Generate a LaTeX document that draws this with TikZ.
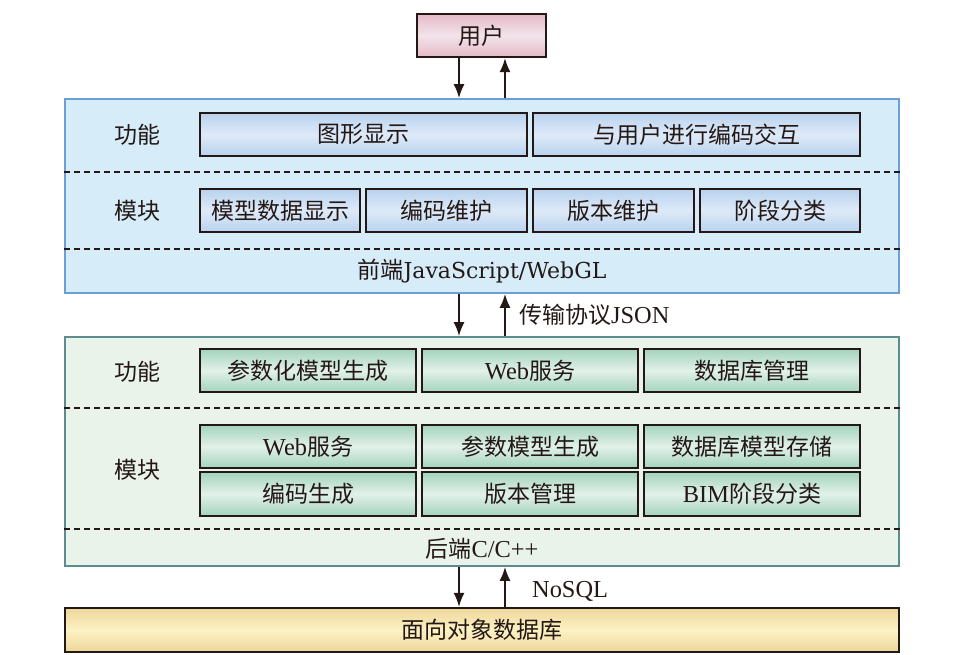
\documentclass[tikz,border=0pt]{standalone}
\usepackage{fontspec}
\setmainfont{Liberation Serif}[Scale=1.06]
\newfontfamily\cjk{Noto Sans CJK SC}
\newfontfamily\dvs{DejaVu Serif}
\usetikzlibrary{arrows.meta}
\definecolor{dk}{HTML}{231815}
\definecolor{upE}{HTML}{E4B9C8}
\definecolor{upC}{HTML}{F2E4EA}
\definecolor{fpF}{HTML}{D6ECF9}
\definecolor{fpB}{HTML}{6C9FD4}
\definecolor{fbE}{HTML}{B8D2EE}
\definecolor{fbC}{HTML}{DEEAF8}
\definecolor{bpF}{HTML}{E9F3EA}
\definecolor{bpB}{HTML}{5C8C90}
\definecolor{bbE}{HTML}{A3D3BC}
\definecolor{bbC}{HTML}{E2F1E9}
\definecolor{dbE}{HTML}{ECD69A}
\definecolor{dbC}{HTML}{FDF2C4}
\newcommand{\zh}[1]{{\cjk #1}}
\tikzset{
  every node/.style={font=\fontsize{23}{27}\selectfont, text=dk, inner sep=0pt},
  ubox/.style={draw=dk, line width=2.2pt, top color=upE, bottom color=upE, middle color=upC, minimum width=129, minimum height=43},
  fbox/.style={draw=dk, line width=2.2pt, top color=fbE, bottom color=fbE, middle color=fbC, minimum height=43},
  bbox/.style={draw=dk, line width=2.2pt, top color=bbE, bottom color=bbE, middle color=bbC, minimum height=43, minimum width=216},
  dbbox/.style={draw=dk, line width=2.2pt, top color=dbE, bottom color=dbE, middle color=dbC, minimum width=834, minimum height=44},
  fpanel/.style={draw=fpB, line width=1.8pt, fill=fpF, minimum width=834, minimum height=194},
  bpanel/.style={draw=bpB, line width=1.8pt, fill=bpF, minimum width=834, minimum height=229},
  sep/.style={draw=dk, line width=1.3pt, dash pattern=on 6pt off 4pt},
  arr/.style={draw=dk, line width=1.8pt, -{Latex[length=14pt,width=11pt]}},
}
\begin{document}
\begin{tikzpicture}[x=1pt,y=-1pt]
\useasboundingbox (0,0) rectangle (978,655);
\coordinate (xl) at (459,0);
\coordinate (xr) at (505,0);
% user
\node[ubox] (user) at (481.5,35.5) {\zh{用户}};
% frontend panel
\node[fpanel] (fp) at (482,196) {};
\draw[sep] (fp.west |- 0,172) -- (fp.east |- 0,172);
\draw[sep] (fp.west |- 0,249) -- (fp.east |- 0,249);
\node (fl1) at (137,135) {\zh{功能}};
\node (fl2) at (137,211) {\zh{模块}};
\node[fbox, minimum width=327] (f1) at (363.5,134.5) {\zh{图形显示}};
\node[fbox, minimum width=327] (f2) at (696.5,134.5) {\zh{与用户进行编码交互}};
\node[fbox, minimum width=160] (m1) at (280,210.5) {\zh{模型数据显示}};
\node[fbox, minimum width=161] (m2) at (446.5,210.5) {\zh{编码维护}};
\node[fbox, minimum width=161] (m3) at (613.5,210.5) {\zh{版本维护}};
\node[fbox, minimum width=160] (m4) at (780,210.5) {\zh{阶段分类}};
\node (flang) at (482,271) {\zh{前端}{\dvs\fontsize{22}{26}\selectfont JavaScript/WebGL}};
% backend panel
\node[bpanel] (bp) at (482,451.5) {};
\draw[sep] (bp.west |- 0,408) -- (bp.east |- 0,408);
\draw[sep] (bp.west |- 0,529) -- (bp.east |- 0,529);
\node (bl1) at (137,372) {\zh{功能}};
\node (bl2) at (137,470) {\zh{模块}};
\node[bbox] (b1) at (308,370.5) {\zh{参数化模型生成}};
\node[bbox] (b2) at (530,370.5) {Web\zh{服务}};
\node[bbox] (b3) at (752,370.5) {\zh{数据库管理}};
\node[bbox] (c1) at (308,446.5) {Web\zh{服务}};
\node[bbox] (c2) at (530,446.5) {\zh{参数模型生成}};
\node[bbox] (c3) at (752,446.5) {\zh{数据库模型存储}};
\node[bbox, minimum height=44] (d1) at (308,494) {\zh{编码生成}};
\node[bbox, minimum height=44] (d2) at (530,494) {\zh{版本管理}};
\node[bbox, minimum height=44] (d3) at (752,494) {BIM\zh{阶段分类}};
\node (blang) at (482,549) {\zh{后端}C/C++};
% database
\node[dbbox] (db) at (482,630) {\zh{面向对象数据库}};
% arrows
\draw[arr] (user.south -| xl) -- (fp.north -| xl);
\draw[arr] (fp.north -| xr) -- (user.south -| xr);
\draw[arr] (fp.south -| xl) -- (bp.north -| xl);
\draw[arr] (bp.north -| xr) -- (fp.south -| xr);
\draw[arr] (bp.south -| xl) -- (db.north -| xl);
\draw[arr] (db.north -| xr) -- (bp.south -| xr);
\node[anchor=west] (json) at (519,315) {\zh{传输协议}JSON};
\node[anchor=west] (nosql) at (532,591) {NoSQL};
\end{tikzpicture}
\end{document}
